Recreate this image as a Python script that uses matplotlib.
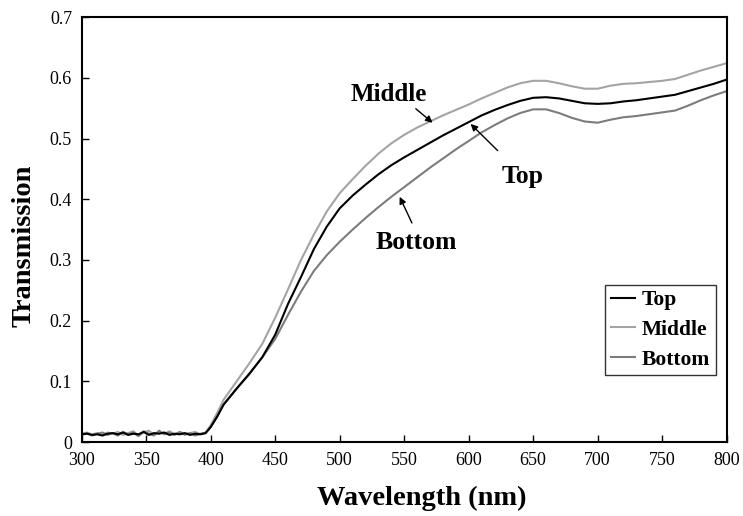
import matplotlib
matplotlib.use("Agg")
import matplotlib.pyplot as plt
from matplotlib.ticker import FuncFormatter

plt.rcParams['font.family'] = ['Liberation Serif', 'DejaVu Serif']

# ---- data ----
wavelength = [300, 304, 308, 312, 316, 320, 324, 328, 332, 336, 340, 344,
              348, 352, 356, 360, 364, 368, 372, 376, 380, 384, 388, 392,
              396, 400, 405, 410, 420, 430, 440, 450, 460, 470, 480, 490,
              500, 510, 520, 530, 540, 550, 560, 570, 580, 590, 600, 610,
              620, 630, 640, 650, 660, 670, 680, 690, 700, 710, 720, 730,
              740, 750, 760, 770, 780, 790, 800]

top = [0.013, 0.014, 0.012, 0.013, 0.011, 0.014, 0.015, 0.013, 0.016, 0.012,
       0.014, 0.013, 0.017, 0.012, 0.015, 0.014, 0.016, 0.012, 0.014, 0.013,
       0.015, 0.012, 0.014, 0.013,
       0.015, 0.025, 0.042, 0.062, 0.088, 0.113, 0.140, 0.177, 0.228, 0.272,
       0.318, 0.355, 0.385, 0.406, 0.424, 0.441, 0.456, 0.469, 0.481, 0.493,
       0.505, 0.516, 0.527, 0.538, 0.547, 0.555, 0.562, 0.567, 0.568, 0.566,
       0.562, 0.558, 0.557, 0.558, 0.561, 0.563, 0.566, 0.569, 0.572, 0.578,
       0.584, 0.590, 0.597]

middle = [0.014, 0.016, 0.013, 0.015, 0.012, 0.016, 0.014, 0.017, 0.012, 0.015,
          0.018, 0.011, 0.016, 0.019, 0.012, 0.017, 0.014, 0.018, 0.013, 0.016,
          0.012, 0.015, 0.017, 0.013,
          0.016, 0.028, 0.048, 0.070, 0.100, 0.130, 0.162, 0.205, 0.252, 0.300,
          0.342, 0.380, 0.410, 0.433, 0.455, 0.475, 0.492, 0.506, 0.518, 0.528,
          0.538, 0.547, 0.556, 0.566, 0.575, 0.584, 0.591, 0.595, 0.595, 0.591,
          0.586, 0.582, 0.582, 0.587, 0.590, 0.591, 0.593, 0.595, 0.598, 0.605,
          0.612, 0.618, 0.624]

bottom = [0.012, 0.015, 0.011, 0.014, 0.016, 0.012, 0.015, 0.011, 0.017, 0.013,
          0.016, 0.010, 0.018, 0.014, 0.011, 0.019, 0.013, 0.016, 0.012, 0.017,
          0.013, 0.015, 0.011, 0.014,
          0.015, 0.025, 0.043, 0.062, 0.088, 0.112, 0.140, 0.170, 0.210, 0.248,
          0.282, 0.308, 0.330, 0.350, 0.369, 0.387, 0.404, 0.420, 0.436, 0.452,
          0.467, 0.482, 0.496, 0.510, 0.522, 0.533, 0.542, 0.548, 0.548, 0.542,
          0.534, 0.528, 0.526, 0.531, 0.535, 0.537, 0.540, 0.543, 0.546, 0.554,
          0.563, 0.571, 0.578]

series_names = ["Top", "Middle", "Bottom"]
x_ticks = [300, 350, 400, 450, 500, 550, 600, 650, 700, 750, 800]
y_ticks = [0, 0.1, 0.2, 0.3, 0.4, 0.5, 0.6, 0.7]

# ---- figure ----
fig = plt.figure(figsize=(7.43, 5.16), dpi=100)
ax = fig.add_axes([0.110, 0.143, 0.868, 0.824])

ax.plot(wavelength, top, color='black', lw=1.5, label=series_names[0], zorder=3)
ax.plot(wavelength, middle, color='#a4a4a4', lw=1.5, label=series_names[1], zorder=2)
ax.plot(wavelength, bottom, color='#7c7c7c', lw=1.5, label=series_names[2], zorder=2)

ax.set_xlim(300, 800)
ax.set_ylim(0, 0.7)
ax.set_xticks(x_ticks)
ax.set_yticks(y_ticks)
ax.yaxis.set_major_formatter(FuncFormatter(lambda v, p: "0" if abs(v) < 1e-9 else f"{v:.1f}"))
ax.tick_params(direction='in', length=5, width=1, labelsize=13, top=False, right=False, pad=7)
for s in ax.spines.values():
    s.set_linewidth(1.5)

ax.set_xlabel("Wavelength (nm)", fontsize=20.5, fontweight='bold')
ax.set_ylabel("Transmission", fontsize=20.5, fontweight='bold')
ax.xaxis.set_label_coords(0.527, -0.102)
ax.yaxis.set_label_coords(-0.070, 0.461)

# annotations
arrow = dict(arrowstyle='-|>', color='black', lw=1.0, mutation_scale=10, shrinkA=0, shrinkB=0)
ax.text(538, 0.573, "Middle", fontsize=18, fontweight='bold', ha='center', va='center')
ax.annotate("", xy=(572, 0.526), xytext=(559, 0.549), arrowprops=arrow)
ax.text(642, 0.437, "Top", fontsize=18.5, fontweight='bold', ha='center', va='center')
ax.annotate("", xy=(601.5, 0.524), xytext=(622.5, 0.48), arrowprops=arrow)
ax.text(559, 0.329, "Bottom", fontsize=18.5, fontweight='bold', ha='center', va='center')
ax.annotate("", xy=(546.5, 0.404), xytext=(556, 0.361), arrowprops=arrow)

leg = ax.legend(loc='lower right', bbox_to_anchor=(0.983, 0.158), fontsize=15.5,
                frameon=True, fancybox=False, edgecolor='black', handlelength=1.1,
                borderpad=0.25, labelspacing=0.45, handletextpad=0.35, borderaxespad=0)
leg.get_frame().set_linewidth(1.0)
for t in leg.get_texts():
    t.set_fontweight('bold')

fig.savefig("out.png", dpi=100)
